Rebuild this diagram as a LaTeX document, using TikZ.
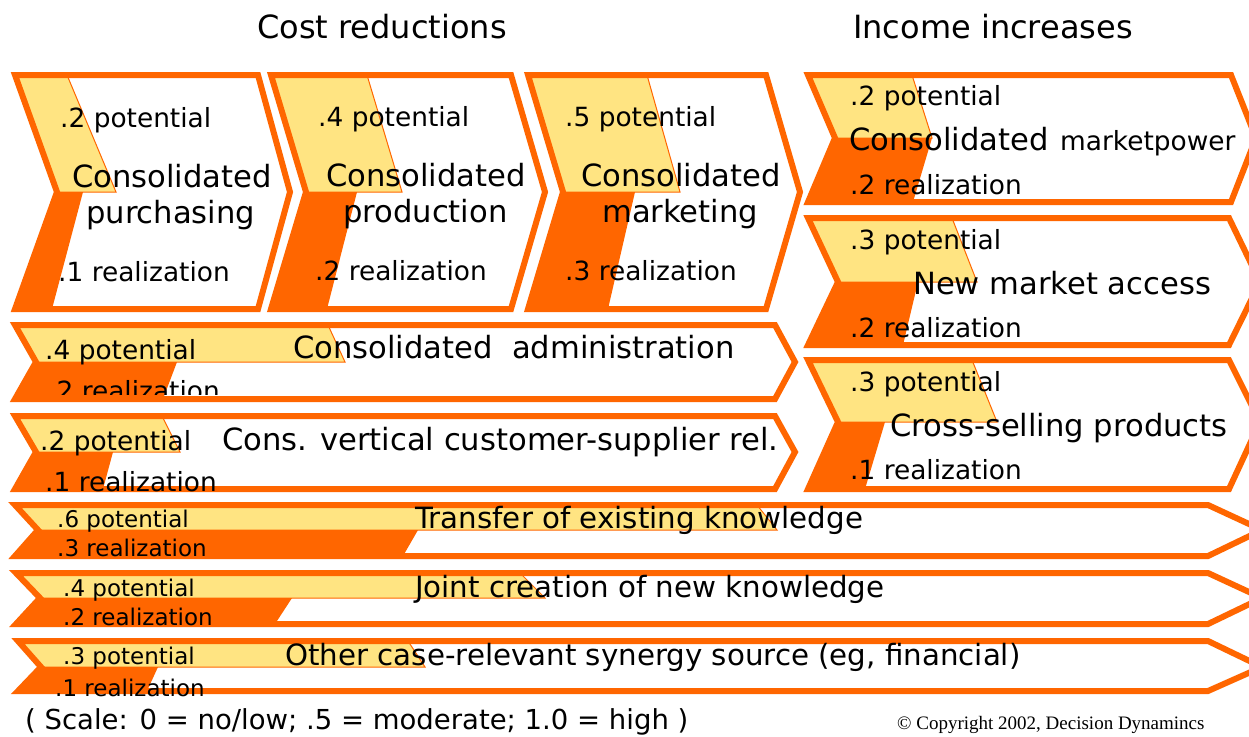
\documentclass[tikz,border=0pt]{standalone}
\usepackage{fontspec}
\setmainfont{DejaVu Sans}
\newfontfamily\timesf{Liberation Serif}
\definecolor{synorange}{RGB}{255,102,0}
\definecolor{synyellow}{RGB}{255,228,130}
\newcommand\fs[1]{\fontsize{#1}{#1}\selectfont}
\newcommand\setchev[7]{\def\cxa{#1}\def\cya{#2}\def\cxb{#3}\def\cyb{#4}\def\cym{#5}\def\cnx{#6}\def\cpx{#7}}
\newcommand\chevfill[4]{%
  \begin{scope}
    \clip (\cxa,\cya) -- (\cxb,\cya) -- (\cpx,\cym) -- (\cxb,\cyb) -- (\cxa,\cyb) -- (\cnx,\cym) -- cycle;
    \fill[synyellow] (\cxa-60,\cya) -- (#1,\cya) -- (#2,\cym) -- (\cxa-60,\cym) -- cycle;
    \fill[synorange] (\cxa-60,\cym) -- (#3,\cym) -- (#4,\cyb) -- (\cxa-60,\cyb) -- cycle;
  \end{scope}
  \draw[potedge] (#1,\cya) -- (#2,\cym) -- (\cnx,\cym);
  \draw[chevedge] (\cxa,\cya) -- (\cxb,\cya) -- (\cpx,\cym) -- (\cxb,\cyb) -- (\cxa,\cyb) -- (\cnx,\cym) -- cycle;
}
\tikzset{
  chevedge/.style={draw=synorange, line width=6pt, line join=miter},
  potedge/.style={draw=synorange, line width=1pt},
  lbl/.style={anchor=base west, inner sep=0pt, text=black, font=\fs{26.4}},
  big/.style={anchor=base west, inner sep=0pt, text=black, font=\fs{30.6}},
  small/.style={anchor=base west, inner sep=0pt, text=black, font=\fs{23}},
  mid/.style={anchor=base west, inner sep=0pt, text=black, font=\fs{29.3}},
  ttl/.style={anchor=base west, inner sep=0pt, text=black, font=\fs{32}},
}
\begin{document}
\begin{tikzpicture}[x=1pt,y=-1pt]
\useasboundingbox (0,0) rectangle (1249,736);
\fill[white] (0,0) rectangle (1249,736);
% cost reduction chevrons
\setchev{15}{75}{258}{309}{192}{57}{290}\chevfill{67}{116}{83}{52}
\setchev{271}{75}{511}{309}{192}{306}{545}\chevfill{367}{402}{357}{327}
\setchev{528}{75}{766}{309}{192}{563}{800}\chevfill{647}{680}{635}{608}
% income chevrons
\setchev{808}{75}{1231}{202}{138}{835}{1256}\chevfill{912}{932}{932}{913}
\setchev{808}{218}{1229}{345}{282}{838}{1260}\chevfill{952}{977}{918}{903}
\setchev{808}{360}{1229}{489}{422}{838}{1260}\chevfill{972}{997}{885}{865}
% wide rows
\setchev{15}{325}{775}{399}{362}{36}{795}\chevfill{328}{345}{177}{163}
\setchev{15}{416}{775}{489}{452}{36}{795}\chevfill{162}{180}{113}{103}
\setchev{15}{505}{1208}{556}{530}{38}{1262}\chevfill{757}{777}{418}{403}
\setchev{16}{573}{1208}{624}{598}{40}{1262}\chevfill{520}{545}{292}{275}
\setchev{18}{641}{1208}{691}{667}{41}{1262}\chevfill{408}{425}{158}{147}
% titles
\node[ttl] (tcost) at (257,38) {Cost reductions};
\node[ttl] (tinc) at (853,38) {Income increases};
% chevron 1
\node[lbl] (c1p) at (60,127) {.2 potential};
\node[big] (c1a) at (72,187) {Consolidated};
\node[big] (c1b) at (86,223) {purchasing};
\node[lbl] (c1r) at (58,281) {.1 realization};
% chevron 2
\node[lbl] (c2p) at (318,126) {.4 potential};
\node[big] (c2a) at (326,186) {Consolidated};
\node[big] (c2b) at (343,222) {production};
\node[lbl] (c2r) at (315,280) {.2 realization};
% chevron 3
\node[lbl] (c3p) at (565,126) {.5 potential};
\node[big] (c3a) at (581,186) {Consolidated};
\node[big] (c3b) at (602,222) {marketing};
\node[lbl] (c3r) at (565,280) {.3 realization};
% marketpower
\node[lbl] (c4p) at (850,105) {.2 potential};
\node[big] (c4a) at (849,150) {Consolidated};
\node[lbl] (c4b) at (1060,150) {marketpower};
\node[lbl] (c4r) at (850,194) {.2 realization};
% new market
\node[lbl] (c5p) at (850,249) {.3 potential};
\node[big] (c5a) at (913,294) {New market access};
\node[lbl] (c5r) at (850,337) {.2 realization};
% cross selling
\node[lbl] (c6p) at (850,391) {.3 potential};
\node[big] (c6a) at (890,436) {Cross-selling products};
\node[lbl] (c6r) at (850,479) {.1 realization};
% admin
\node[lbl] (c7p) at (45,359) {.4 potential};
\node[big] (c7a) at (293,358) {Consolidated\ \ administration};
\begin{scope}
\clip (0,300) rectangle (400,394);
\node[lbl] (c7r) at (48,400) {.2 realization};
\end{scope}
% vertical
\node[lbl] (c8p) at (40,450) {.2 potential};
\node[big] (c8a) at (222,450) {Cons. vertical customer-supplier rel.};
\node[lbl] (c8r) at (45,491) {.1 realization};
% transfer
\node[small] (c9p) at (57,527) {.6 potential};
\node[mid] (c9a) at (415,528) {Transfer of existing knowledge};
\node[small] (c9r) at (57,556) {.3 realization};
% joint
\node[small] (c10p) at (63,596) {.4 potential};
\node[mid] (c10a) at (415,597) {Joint creation of new knowledge};
\node[small] (c10r) at (63,625) {.2 realization};
% other
\node[small] (c11p) at (63,664) {.3 potential};
\node[mid] (c11a) at (285,665) {Other case-relevant synergy source (eg, financial)};
\node[small] (c11r) at (55,696) {.1 realization};
% footer
\node[anchor=base west, inner sep=0pt, font=\fs{27.5}] (scale) at (25,729) {( Scale: 0 = no/low; .5 = moderate; 1.0 = high )};
\node[anchor=base west, inner sep=0pt, font=\timesf\fs{19}] (copy) at (897,729) {\textcopyright\ Copyright 2002, Decision Dynamincs};
\end{tikzpicture}
\end{document}
